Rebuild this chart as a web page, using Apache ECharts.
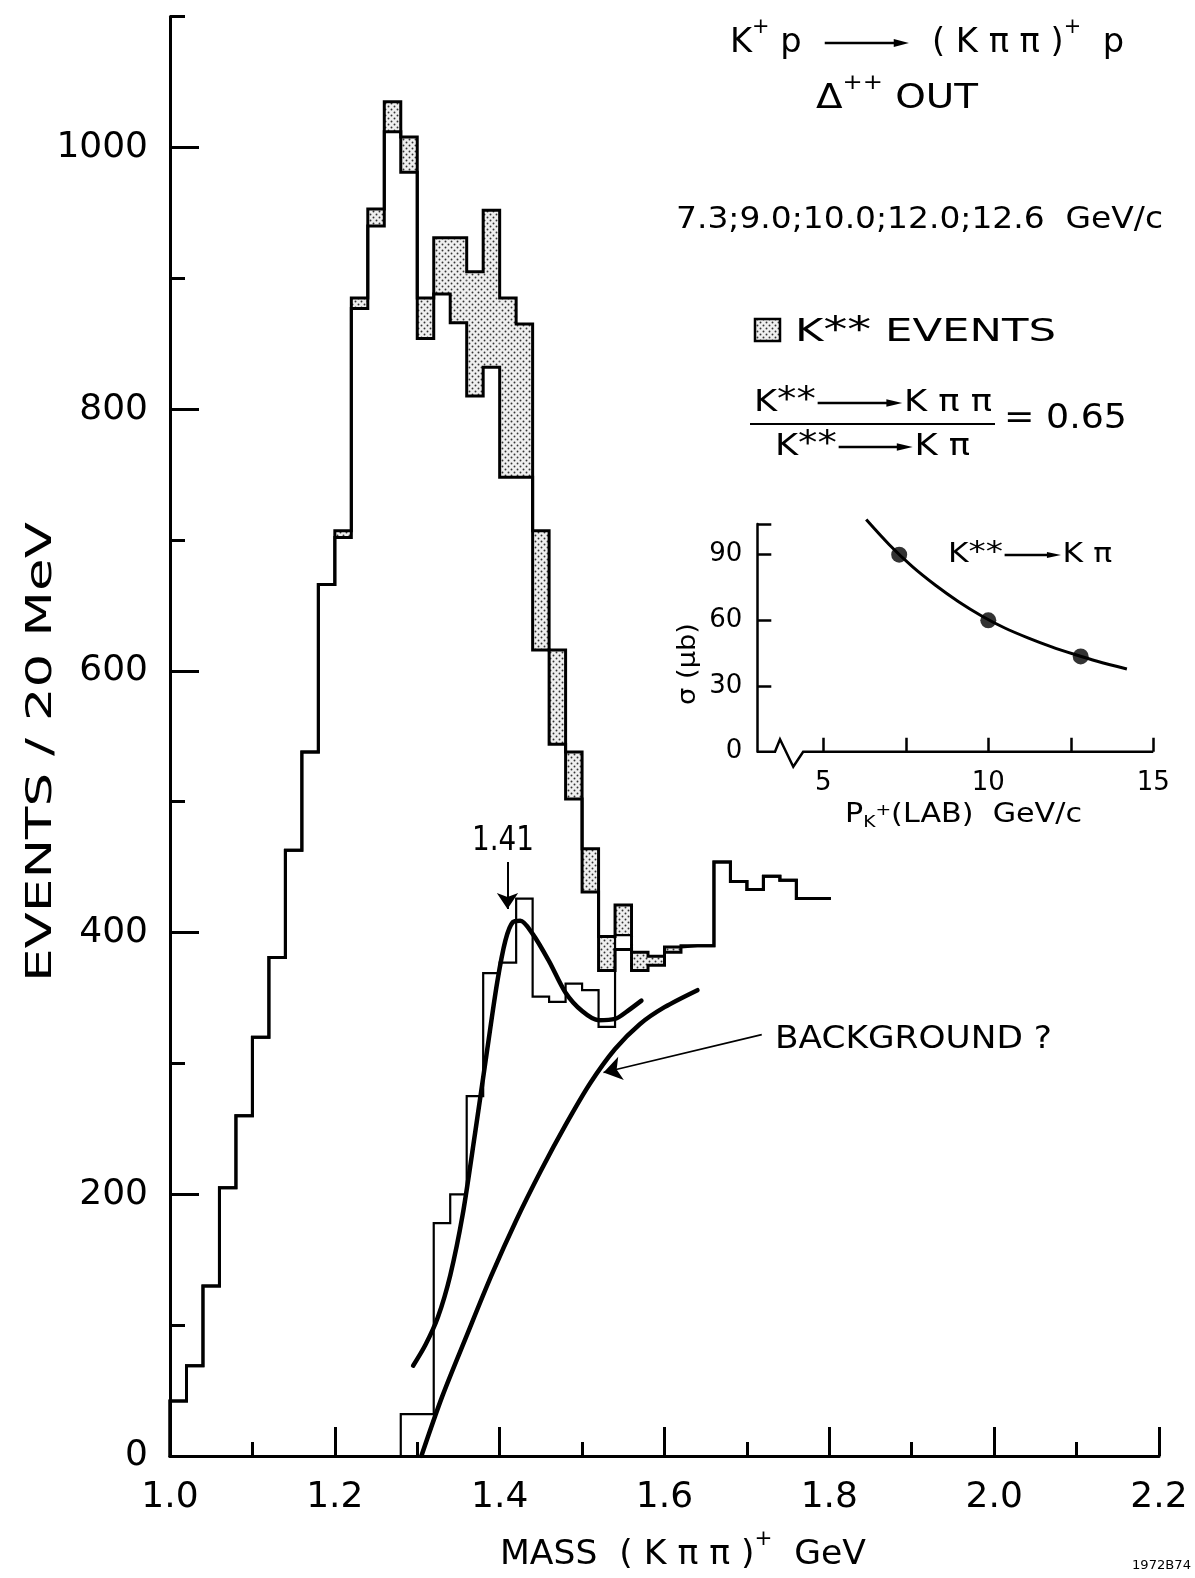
<!DOCTYPE html>
<html><head><meta charset="utf-8">
<script src="https://cdn.jsdelivr.net/npm/echarts@6/dist/echarts.min.js"></script>
<style>html,body{margin:0;padding:0;background:#fff}#c{width:1195px;height:1578px}</style>
</head><body><div id="c"></div>
<script>
// ---------------- DATA ----------------
// main histogram: K pi pi mass, 20 MeV bins (bin lower edges, GeV)
const binStarts = [1.00,1.02,1.04,1.06,1.08,1.10,1.12,1.14,1.16,1.18,
                   1.20,1.22,1.24,1.26,1.28,1.30,1.32,1.34,1.36,1.38,
                   1.40,1.42,1.44,1.46,1.48,1.50,1.52,1.54,1.56,1.58,
                   1.60,1.62,1.64,1.66,1.68,1.70,1.72,1.74,1.76,1.78];
const binWidth = 0.02;
// events without the K** part
const mainEvents = [42,69,130,205,260,320,381,463,538,666,
                    702,877,940,1012,981,854,888,866,810,832,
                    748,748,616,544,502,431,371,387,371,375,
                    385,390,390,454,439,433,443,440,426,426];
// K** (shaded) events: bottom and top of the shaded part
const kstarBins = [1.20,1.22,1.24,1.26,1.28,1.30,1.32,1.34,1.36,1.38,1.40,1.42,1.44,1.46,1.48,1.50,1.52,1.54,1.56,1.58,1.60];
const kstarLow  = [702,877,940,1012,981,854,888,866,810,832,748,748,616,544,502,431,371,398,371,375,385];
const kstarHigh = [707,885,953,1035,1008,885,931,931,905,952,885,865,707,616,538,464,397,421,385,382,389];
// second (lower) histogram
const lowerBins   = [1.28,1.30,1.32,1.34,1.36,1.38,1.40,1.42,1.44,1.46,1.48,1.50,1.52,1.54];
const lowerEvents = [32,32,178,200,275,369,377,426,351,347,361,356,328,398];
// fitted curve (peak at 1.41)
const fitMass   = [1.295,1.31,1.325,1.34,1.355,1.37,1.385,1.397,1.407,1.416,1.425,1.44,1.46,1.48,1.50,1.52,1.54,1.555,1.572];
const fitEvents = [69,85,106,138,184,246,311,362,394,408,409,399,378,354,340,333,334,340,348];
// background curve
const bgMass   = [1.305,1.33,1.36,1.39,1.42,1.45,1.48,1.51,1.54,1.57,1.60,1.64];
const bgEvents = [0,45,92,138,180,218,253,285,311,330,343,356];
// axes ticks
const xTickValues = [1.0,1.2,1.4,1.6,1.8,2.0,2.2];
const xTickLabels = ['1.0','1.2','1.4','1.6','1.8','2.0','2.2'];
const xMinorTicks = [1.1,1.3,1.5,1.7,1.9,2.1];
const yTickValues = [0,200,400,600,800,1000];
const yTickLabels = ['0','200','400','600','800','1000'];
const yMinorTicks = [100,300,500,700,900,1100];
// inset: sigma(K** -> K pi) vs beam momentum
const insetMomentum = [7.3,10.0,12.8];
const insetSigma    = [90,60,43.5];
const insetCurveP     = [6.3,7.0,7.7,8.4,9.1,9.8,10.5,11.2,11.9,12.6,13.3,14.2];
const insetCurveSigma = [106,94.5,84.5,76,68.5,62,56.5,52,48,44.5,41.3,37.8];
const insetXTicks  = [5,7.5,10,12.5,15];
const insetXLabels = [5,10,15];
const insetYTicks  = [30,60,90,104];
const insetYLabels = [0,30,60,90];

// ---------------- helpers ----------------
const FONTQ = "'DejaVu Sans'";
const mctx = document.createElement('canvas').getContext('2d');
function tw(t, font){ mctx.font = font; return mctx.measureText(t).width; }
function S(t, k, rise){ return {t:t, k:k||1, rise:rise||0}; }
function A(w){ return {arrow:w}; }
function textLine(segs, x0, x1, cy, size, lw){
  const children = []; let x = 0;
  for (const s of segs){
    if (s.arrow){
      const w = s.arrow*size, hl = 0.5*size, hh = 0.12*size;
      children.push({type:'line', shape:{x1:x+0.05*size, y1:0, x2:x+w-hl+1, y2:0}, style:{stroke:'#000', lineWidth:lw||2.5}});
      children.push({type:'polygon', shape:{points:[[x+w-hl,-hh],[x+w-0.05*size,0],[x+w-hl,hh]]}, style:{fill:'#000'}});
      x += w; continue;
    }
    const fs = size*s.k, font = fs+'px '+FONTQ;
    children.push({type:'text', x:x, y:-s.rise*size,
      style:{text:s.t, font:font, fill:'#000', textAlign:'left', align:'left', textVerticalAlign:'middle', verticalAlign:'middle'}});
    x += tw(s.t, font);
  }
  return {type:'group', x:x0, y:cy, scaleX:(x1-x0)/x, children:children};
}
function rotated(line, x, y){ return {type:'group', x:x, y:y, rotation:Math.PI/2, children:[line]}; }

const dotCanvas = (function(){
  const c = document.createElement('canvas'); c.width = 6; c.height = 6;
  const g = c.getContext('2d');
  g.fillStyle = '#efefef'; g.fillRect(0,0,6,6);
  g.fillStyle = '#333';
  g.beginPath(); g.arc(1.5,1.5,0.95,0,Math.PI*2); g.fill();
  g.beginPath(); g.arc(4.5,4.5,0.95,0,Math.PI*2); g.fill();
  return c;
})();
const dotPattern = {image: dotCanvas, repeat: 'repeat'};

function stepPts(starts, vals){
  const p = [[starts[0], 0]];
  for (let i = 0; i < starts.length; i++) p.push([+(starts[i] + binWidth).toFixed(4), vals[i]]);
  return p;
}
const totalEvents = binStarts.map(function(b, i){
  const j = kstarBins.findIndex(function(k){ return Math.abs(k - b) < 1e-6; });
  return j >= 0 ? kstarHigh[j] : mainEvents[i];
});

// ---------------- chart ----------------
const chart = echarts.init(document.getElementById('c'), null, {renderer:'canvas'});
const black = '#000';
const lblStyle = {color:black, fontFamily:FONTQ};

const texts = [
  textLine([S('K'),S('+',0.62,0.45),S(' p  '),A(2.6),S('  ( K π π )'),S('+',0.62,0.45),S('  p')], 730, 1124, 43, 34),
  textLine([S('Δ'),S('++',0.62,0.45),S(' OUT')], 816, 978, 99, 34),
  textLine([S('7.3;9.0;10.0;12.0;12.6  GeV/c')], 676, 1163, 220, 30),
  textLine([S('K'),S('**',1.1,0.05),S(' EVENTS')], 795, 1056, 333, 32),
  textLine([S('K'),S('**',1.1,0.05),A(2.5),S('K π π')], 754, 992, 403, 31),
  textLine([S('K'),S('**',1.1,0.05),A(2.2),S('K π')], 775, 970, 447, 31),
  textLine([S('= 0.65')], 1004, 1127, 419, 34),
  textLine([S('1.41')], 472, 534, 841, 34),
  textLine([S('BACKGROUND ?')], 775, 1052, 1040, 32),
  rotated(textLine([S('EVENTS / 20 MeV')], 0, 460, 0, 36), 42, 982),
  textLine([S('MASS  ( K π π )'),S('+',0.62,0.45),S('  GeV')], 500, 866, 1555, 34),
  textLine([S('K'),S('**',1.1,0.05),A(1.9),S('K π')], 948, 1112, 555, 26),
  textLine([S('P'),S('K',0.62,-0.3),S('+',0.62,0.15),S('(LAB)  GeV/c')], 845, 1082, 815, 26),
  rotated(textLine([S('σ (μb)')], 0, 82, 0, 25), 688, 705),
  textLine([S('1972B74')], 1132, 1191, 1566, 13),
  {type:'line', shape:{x1:750, y1:424, x2:995, y2:424}, style:{stroke:black, lineWidth:2}},
  {type:'rect', shape:{x:755, y:319, width:25, height:22}, style:{fill:dotPattern, stroke:black, lineWidth:2.5}}
];

const option = {
  animation: false,
  backgroundColor: '#fff',
  textStyle: {fontFamily: FONTQ},
  grid: [
    {left:170, top:16.6, width:989, height:1439.4, outerBoundsMode:'none', containLabel:false},
    {left:757.3, top:524, width:396, height:227.7, outerBoundsMode:'none', containLabel:false}
  ],
  xAxis: [
    {gridIndex:0, type:'value', min:1.0, max:2.2, interval:0.2, position:'bottom',
     axisLine:{show:true, onZero:false, lineStyle:{color:black, width:3}},
     axisTick:{show:true, inside:true, length:29, customValues:xTickValues, lineStyle:{color:black, width:3}},
     axisLabel:Object.assign({show:true, margin:24, fontSize:36, customValues:xTickValues,
       formatter:function(v){ const i = xTickValues.findIndex(function(t){return Math.abs(t-v)<1e-6;}); return i>=0 ? xTickLabels[i] : ''; }}, lblStyle),
     splitLine:{show:false}},
    {gridIndex:0, type:'value', min:1.0, max:2.2, interval:0.1, position:'bottom',
     axisLine:{show:false, onZero:false},
     axisTick:{show:true, inside:true, length:14, customValues:xMinorTicks, lineStyle:{color:black, width:3}},
     axisLabel:{show:false}, splitLine:{show:false}},
    {gridIndex:1, type:'value', min:3, max:15, interval:2.5, position:'bottom',
     axisLine:{show:false, onZero:false},
     axisTick:{show:true, inside:true, length:14, customValues:insetXTicks, lineStyle:{color:black, width:2.5}},
     axisLabel:Object.assign({show:true, margin:19, fontSize:26, customValues:insetXLabels}, lblStyle),
     splitLine:{show:false}}
  ],
  yAxis: [
    {gridIndex:0, type:'value', min:0, max:1100, interval:100, position:'left',
     axisLine:{show:true, onZero:false, lineStyle:{color:black, width:3}},
     axisTick:{show:true, inside:true, length:29, customValues:yTickValues, lineStyle:{color:black, width:3}},
     axisLabel:Object.assign({show:true, margin:22, fontSize:36, customValues:yTickValues,
       formatter:function(v){ const i = yTickValues.indexOf(Math.round(v)); return i>=0 ? yTickLabels[i] : ''; }}, lblStyle),
     splitLine:{show:false}},
    {gridIndex:0, type:'value', min:0, max:1100, interval:100, position:'left', offset:0,
     axisLine:{show:false, onZero:false},
     axisTick:{show:true, inside:true, length:15, customValues:yMinorTicks, lineStyle:{color:black, width:3}},
     axisLabel:{show:false}, splitLine:{show:false}},
    {gridIndex:1, type:'value', min:0, max:104, interval:30, position:'left',
     axisLine:{show:true, onZero:false, lineStyle:{color:black, width:2.5}},
     axisTick:{show:true, inside:true, length:14, customValues:insetYTicks, lineStyle:{color:black, width:2.5}},
     axisLabel:Object.assign({show:true, margin:15, fontSize:26, customValues:insetYLabels}, lblStyle),
     splitLine:{show:false}}
  ],
  series: [
    {type:'custom', xAxisIndex:0, yAxisIndex:0, silent:true, z:1,
     data: kstarBins.map(function(b,i){ return [b, kstarLow[i], kstarHigh[i]]; }),
     encode:{x:0, y:[1,2]},
     renderItem:function(params, api){
       const x0 = api.value(0), lo = api.value(1), hi = api.value(2);
       const a = api.coord([x0, hi]), b = api.coord([x0 + binWidth, lo]);
       return {type:'rect', shape:{x:a[0], y:a[1], width:b[0]-a[0], height:b[1]-a[1]}, style:{fill:dotPattern, stroke:null}};
     }},
    {type:'line', name:'main', xAxisIndex:0, yAxisIndex:0, step:'start', silent:true, z:3,
     data: stepPts(binStarts, mainEvents), symbol:'none', showSymbol:false,
     lineStyle:{color:black, width:3, join:'miter', cap:'square'}},
    {type:'line', name:'total', xAxisIndex:0, yAxisIndex:0, step:'start', silent:true, z:3,
     data: stepPts(binStarts, totalEvents), symbol:'none', showSymbol:false,
     lineStyle:{color:black, width:3, join:'miter', cap:'square'}},
    {type:'line', name:'lower', xAxisIndex:0, yAxisIndex:0, step:'start', silent:true, z:3,
     data: stepPts(lowerBins, lowerEvents), symbol:'none', showSymbol:false,
     lineStyle:{color:black, width:2.2, join:'miter', cap:'square'}},
    {type:'line', name:'fit', xAxisIndex:0, yAxisIndex:0, smooth:0.3, silent:true, z:4,
     data: fitMass.map(function(m,i){ return [m, fitEvents[i]]; }), symbol:'none', showSymbol:false,
     lineStyle:{color:black, width:4.5, cap:'round'},
     markLine:{silent:true, symbol:['none','arrow'], symbolSize:16, animation:false,
       label:{show:false}, lineStyle:{color:black, width:2, type:'solid'},
       data:[[{coord:[1.4095, 454]},{coord:[1.4095, 418]}]]}},
    {type:'line', name:'background', xAxisIndex:0, yAxisIndex:0, smooth:0.3, silent:true, z:4,
     data: bgMass.map(function(m,i){ return [m, bgEvents[i]]; }), symbol:'none', showSymbol:false,
     lineStyle:{color:black, width:4.5, cap:'round'},
     markLine:{silent:true, symbol:['none','arrow'], symbolSize:18, animation:false,
       label:{show:false}, lineStyle:{color:black, width:1.6, type:'solid'},
       data:[[{coord:[1.718, 322]},{coord:[1.526, 293]}]]}},
    {type:'line', name:'inset axis', xAxisIndex:2, yAxisIndex:2, silent:true, clip:false, z:3,
     data:[[3,0],[3.536,0],[3.688,5.7],[4.09,-6.85],[4.39,0],[15,0]], symbol:'none', showSymbol:false,
     lineStyle:{color:black, width:2.5, join:'miter'}},
    {type:'line', name:'inset curve', xAxisIndex:2, yAxisIndex:2, smooth:0.3, silent:true, clip:false, z:4,
     data: insetCurveP.map(function(p,i){ return [p, insetCurveSigma[i]]; }), symbol:'none', showSymbol:false,
     lineStyle:{color:black, width:3}},
    {type:'scatter', name:'inset points', xAxisIndex:2, yAxisIndex:2, silent:true, z:5,
     data: insetMomentum.map(function(p,i){ return [p, insetSigma[i]]; }),
     symbol:'circle', symbolSize:16, itemStyle:{color:black}}
  ],
  graphic: {elements: texts}
};
chart.setOption(option);
</script>
</body></html>
